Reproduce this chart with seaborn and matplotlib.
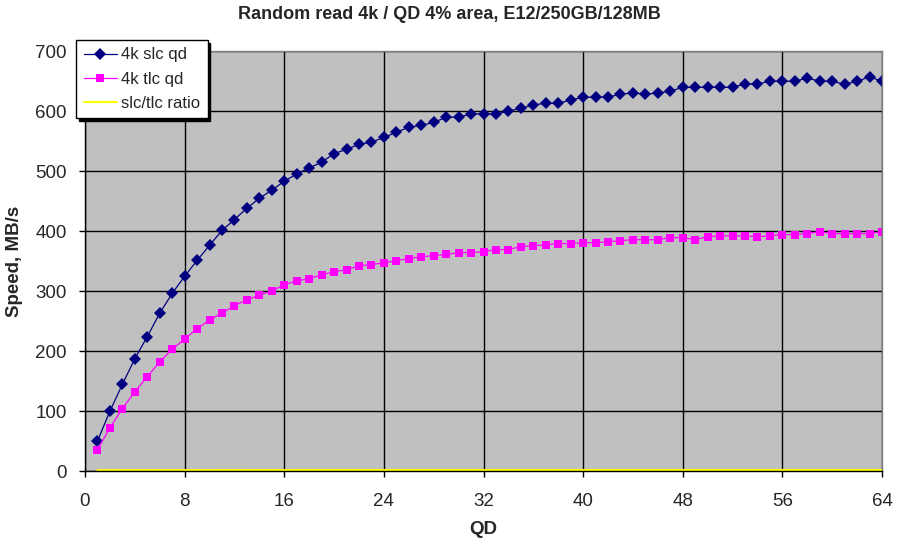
import numpy as np
import pandas as pd
import matplotlib
matplotlib.use('Agg')
import matplotlib.pyplot as plt
import seaborn as sns

# data
qd = list(range(1, 65))
slc_speed = [50, 99.5, 144.5, 187, 224, 263, 296, 324.5, 351, 376,
             401, 419, 438, 454.5, 468, 483, 495, 505, 514.5, 529,
             536, 544.5, 548, 556, 564.5, 573, 576, 581, 589.5, 589.5,
             595, 595, 594.5, 600, 604.5, 610, 613, 613, 618, 623,
             623, 623, 628, 630, 628, 630, 633, 639.5, 639.5, 639.5,
             639.5, 639.5, 645, 645, 649.5, 649.5, 649.5, 655, 649.5, 649.5,
             644.5, 649.5, 657, 649.5]
tlc_speed = [35.5, 72, 104, 132, 157, 182, 203, 220, 237, 252,
             263, 275.5, 285.5, 293, 300, 310.5, 317, 320.5, 327, 332,
             335.5, 342, 344, 347, 350.5, 354, 357, 359, 361, 364,
             364, 365.5, 369, 369, 374, 375.5, 377, 379, 379, 380.5,
             380.5, 382, 384, 385.5, 385.5, 385.5, 389, 389, 385.5, 390.5,
             392, 392, 392, 390.5, 392, 394, 394, 395.5, 399, 395.5,
             395.5, 395.5, 395.5, 399]
ratio = [s / t for s, t in zip(slc_speed, tlc_speed)]

series_names = ['4k slc qd', '4k tlc qd', 'slc/tlc ratio']
x_ticks = list(range(0, 65, 8))
y_ticks = list(range(0, 701, 100))

df = pd.DataFrame({'QD': qd, 'slc': slc_speed, 'tlc': tlc_speed, 'ratio': ratio})

sns.set_style('white')
plt.rcParams['font.family'] = ['Liberation Sans', 'DejaVu Sans']

fig = plt.figure(figsize=(8.99, 5.44), dpi=100)
ax = fig.add_axes([85 / 899, 1 - 471 / 544, 797 / 899, 420 / 544])
ax.set_facecolor('#C0C0C0')

sns.lineplot(data=df, x='QD', y='slc', ax=ax, color='#000080', marker='D',
             markersize=6.5, markeredgewidth=0, linewidth=0.9, label=series_names[0])
sns.lineplot(data=df, x='QD', y='tlc', ax=ax, color='#FF00FF', marker='s',
             markersize=5.8, markeredgewidth=0, linewidth=0.9, label=series_names[1])
sns.lineplot(data=df, x='QD', y='ratio', ax=ax, color='#FFFF00',
             linewidth=1.5, label=series_names[2])

ax.set_xlim(0, 64)
ax.set_ylim(0, 700)
ax.set_xticks(x_ticks)
ax.set_yticks(y_ticks)
ax.grid(True, color='black', linewidth=1)
ax.set_axisbelow(True)

for side in ['top', 'right']:
    ax.spines[side].set_color('#808080')
    ax.spines[side].set_linewidth(1)
for side in ['left', 'bottom']:
    ax.spines[side].set_color('black')
    ax.spines[side].set_linewidth(1)

ax.tick_params(axis='x', direction='out', length=4, width=1, color='black',
               labelsize=13.5, pad=12, bottom=True)
ax.tick_params(axis='y', direction='out', length=4, width=1, color='black',
               labelsize=13.5, pad=9, left=True)

ax.set_xlabel('QD', fontsize=13.5, fontweight='bold', labelpad=8)
ax.set_ylabel('Speed, MB/s', fontsize=13.5, fontweight='bold', labelpad=9)
fig.suptitle('Random read 4k / QD 4% area, E12/250GB/128MB', fontsize=13,
             fontweight='bold', y=1 - 6 / 544, va='top')

leg = ax.legend(loc='upper left', bbox_to_anchor=(76 / 899, 1 - 40 / 544),
                bbox_transform=fig.transFigure, fontsize=12, frameon=True,
                fancybox=False, edgecolor='black', framealpha=1,
                handlelength=2.0, handletextpad=0.25, borderpad=0.45,
                labelspacing=0.55, borderaxespad=0,
                shadow={'color': 'black', 'alpha': 1, 'ox': 2, 'oy': -2})
leg.get_frame().set_linewidth(1)

fig.savefig('out.png', dpi=100)
